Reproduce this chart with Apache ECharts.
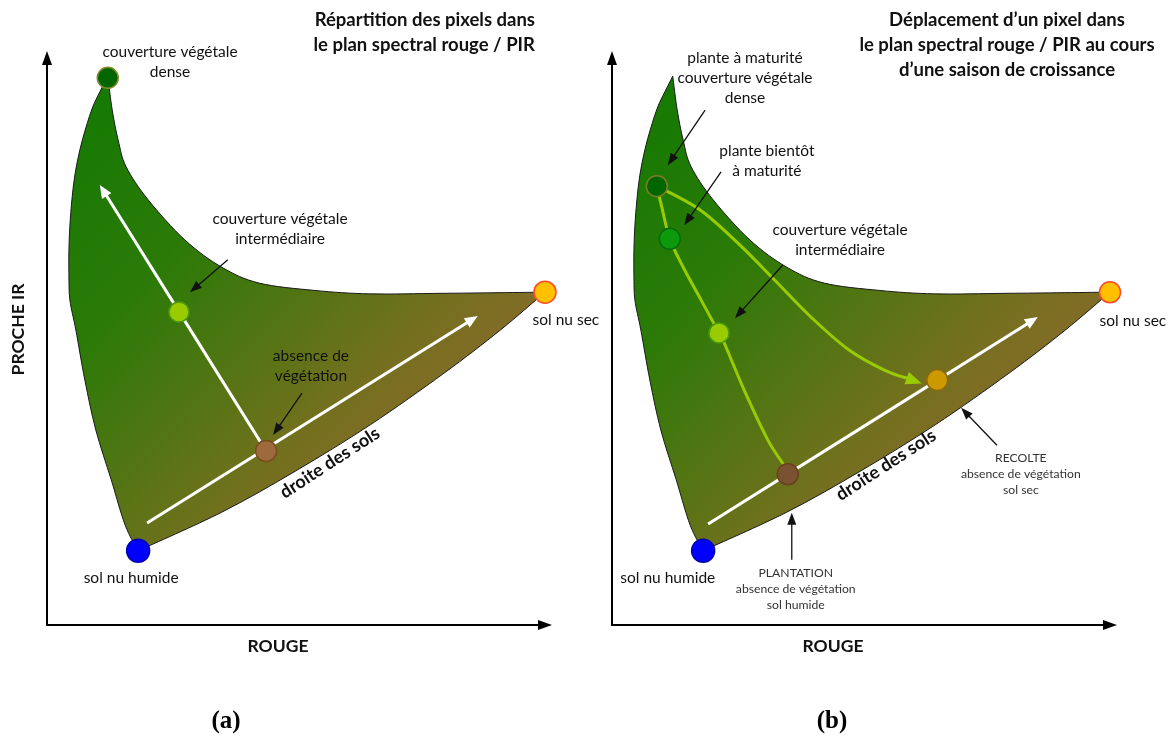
<!DOCTYPE html>
<html><head><meta charset="utf-8">
<script src="https://cdn.jsdelivr.net/npm/echarts@6/dist/echarts.min.js"></script>
<style>html,body{margin:0;padding:0;background:#fff}#c{width:1175px;height:738px}</style>
</head><body><div id="c"></div>
<script>
// ---------- DATA (abstract spectral units, ROUGE 0-100 / PROCHE IR 0-100) ----------
// outline of the red / NIR pixel cloud (same in both panels)
const shapeLeftEdge = [[12.2,96.8],[10.6,94.0],[9.2,91.4],[7.8,87.7],[6.6,83.8],[5.6,79.4],[5.0,75.0],[4.6,70.5],[4.4,66.1],[4.4,61.7],[4.6,57.3],[5.8,52.0],[7.6,43.2],[9.8,34.4],[12.9,25.6],[15.7,17.6],[18.3,13.1]];
const shapeSoilEdge = [[18.3,13.1],[35.1,19.9],[50.0,27.2],[64.9,35.3],[79.7,44.4],[91.0,52.0],[100,58.7]];
const shapeTopEdge = [[100,58.7],[79.7,58.5],[64.9,58.4],[53.8,59.0],[42.6,60.3],[35.1,63.1],[27.7,67.9],[20.3,75.0],[15.9,80.8],[14.3,85.5],[13.1,90.8],[12.2,96.8]];

// panel (a) points
const pointNamesA = ['couverture végétale dense','couverture végétale intermédiaire','absence de végétation','sol nu humide','sol nu sec'];
const pointsA = [[12.2,96.5],[26.5,55.2],[44.0,30.7],[18.3,13.1],[100,58.7]];
const vegetationArrowA = [[44.0,30.7],[10.6,77.6]];
const soilArrowA = [[20.1,18.0],[86.5,54.5]];
const pointerArrowsA = [
  [[36.3,64.4],[28.7,58.7]],
  [[51.2,40.9],[45.4,33.5]]
];

// panel (b) points
const pointNamesB = ['plante à maturité','plante bientôt à maturité','couverture végétale intermédiaire','plantation','récolte','sol nu humide','sol nu sec'];
const pointsB = [[9.0,77.4],[11.6,68.1],[21.5,51.5],[35.3,26.6],[65.3,43.2],[18.3,13.1],[100,58.7]];
const growthPathB = [[35.3,26.6],[34.5,28.2],[31.3,32.6],[26.7,41.1],[22.7,49.4],[21.5,51.5],[17.9,57.3],[14.3,63.1],[11.6,68.1],[10.0,73.7],[9.0,77.4]];
const senescencePathB = [[9.0,77.4],[17.7,73.2],[25.7,67.0],[32.7,60.8],[40.2,54.1],[47.6,48.5],[54.8,44.9],[62.2,42.6]];
const soilArrowB = [[19.3,17.8],[85.5,54.3]];
const pointerArrowsB = [
  [[18.7,90.8],[11.2,81.1]],
  [[21.9,79.9],[14.5,70.5]],
  [[34.3,63.5],[24.7,54.1]],
  [[36.1,11.5],[36.1,19.8]],
  [[77.3,31.7],[70.1,38.3]]
];

// texts
const titleA = ['Répartition des pixels dans','le plan spectral rouge / PIR'];
const titleB = ['Déplacement d\u2019un pixel dans','le plan spectral rouge / PIR au cours','d\u2019une saison de croissance'];
const labelsA = ['couverture végétale\ndense','couverture végétale\nintermédiaire','absence de\nvégétation','sol nu humide','sol nu sec','droite des sols'];
const labelsB = ['plante à maturité\ncouverture végétale\ndense','plante bientôt\nà maturité','couverture végétale\nintermédiaire','PLANTATION\nabsence de végétation\nsol humide','RECOLTE\nabsence de végétation\nsol sec','sol nu humide','sol nu sec','droite des sols'];
const axisNameX = 'ROUGE';
const axisNameY = 'PROCHE IR';
const panelTags = ['(a)','(b)'];

// ---------- LAYOUT / STYLE ----------
const LF = '15.5px Lato', SF = '12.2px Lato', RF = 'bold 18px Lato';
const labelLayoutA = [
  {at:[24.7,99.3], font:LF},
  {at:[46.8,69.8], font:LF},
  {at:[53.0,45.7], font:LF},
  {at:[16.9,8.3], font:LF},
  {at:[104.2,53.8], font:LF},
  {at:[56.8,28.6], font:RF, rot:33}
];
const labelLayoutB = [
  {at:[26.7,96.5], font:LF},
  {at:[31.1,81.8], font:LF},
  {at:[45.8,67.9], font:LF},
  {at:[36.9,6.3], font:SF, lh:16, color:'#333'},
  {at:[82.1,26.6], font:SF, lh:16, color:'#333'},
  {at:[11.2,8.3], font:LF},
  {at:[104.6,53.6], font:LF},
  {at:[55.0,28.2], font:RF, rot:33}
];
const styleA = [
  {c:'#006600', b:'#8a8a2a', s:21},
  {c:'#99cc00', b:'#4a9a10', s:20},
  {c:'#9c6a3d', b:'#7a4c22', s:21},
  {c:'#0000ff', b:'#0000b0', s:23},
  {c:'#ffc000', b:'#ff4a2a', s:22}
];
const styleB = [
  {c:'#006600', b:'#7d7a2a', s:21},
  {c:'#0c990c', b:'#0a6a0a', s:21},
  {c:'#99cc00', b:'#4a9a10', s:20},
  {c:'#7a5232', b:'#6a4020', s:21},
  {c:'#cc9900', b:'#8a6a10', s:21},
  {c:'#0000ff', b:'#0000b0', s:23},
  {c:'#ffc000', b:'#ff4a2a', s:21}
];

// ---------- HELPERS ----------
function bez(px, move) {
  let d = move ? 'M' + px[0][0] + ' ' + px[0][1] : '';
  for (let i = 0; i < px.length - 1; i++) {
    const p0 = px[i - 1] || px[i], p1 = px[i], p2 = px[i + 1], p3 = px[i + 2] || px[i + 1];
    const c1 = [p1[0] + (p2[0] - p0[0]) / 6, p1[1] + (p2[1] - p0[1]) / 6];
    const c2 = [p2[0] - (p3[0] - p1[0]) / 6, p2[1] - (p3[1] - p1[1]) / 6];
    d += ' C' + c1[0] + ' ' + c1[1] + ' ' + c2[0] + ' ' + c2[1] + ' ' + p2[0] + ' ' + p2[1];
  }
  return d;
}
function arrowEls(api, pts, color, width, headL, headW, arrow) {
  const px = pts.map(p => api.coord(p));
  const n = px.length, end = px[n - 1], prev = px[n - 2];
  let dx = end[0] - prev[0], dy = end[1] - prev[1];
  const len = Math.hypot(dx, dy); dx /= len; dy /= len;
  const els = [];
  let linePts = px;
  if (arrow) {
    const lineEnd = [end[0] - dx * headL * 0.8, end[1] - dy * headL * 0.8];
    linePts = px.slice(0, n - 1).concat([lineEnd]);
  }
  els.push({type:'path', shape:{pathData: bez(linePts, true)}, style:{fill:null, stroke:color, lineWidth:width, lineCap:'butt'}});
  if (arrow) {
    const bx = end[0] - dx * headL, by = end[1] - dy * headL;
    const qx = -dy * headW / 2, qy = dx * headW / 2;
    els.push({type:'polygon', shape:{points:[end, [bx + qx, by + qy], [bx - qx, by - qy]]}, style:{fill:color}});
  }
  return els;
}
function customSeries(gi, z, render) {
  return {type:'custom', coordinateSystem:'cartesian2d', xAxisIndex:gi, yAxisIndex:gi, z:z, clip:false, silent:true,
    data:[[0,0]], renderItem: function (params, api) { return {type:'group', children: render(api)}; }};
}
const shapeFill = new echarts.graphic.LinearGradient(0, 0, 1, 1, [
  {offset:0, color:'#117a00'},
  {offset:0.3, color:'#2c7a08'},
  {offset:0.5, color:'#587414'},
  {offset:0.62, color:'#72701e'},
  {offset:0.78, color:'#8a6a2a'},
  {offset:1, color:'#9a6534'}
]);
function shapeSeries(gi) {
  return customSeries(gi, 1, api => {
    const d = bez(shapeLeftEdge.map(p => api.coord(p)), true) + bez(shapeSoilEdge.map(p => api.coord(p)), false) + bez(shapeTopEdge.map(p => api.coord(p)), false) + ' Z';
    return [{type:'path', shape:{pathData:d}, style:{fill:shapeFill, stroke:'#1a1a1a', lineWidth:1}}];
  });
}
function labelSeries(gi, texts, layout) {
  return customSeries(gi, 10, api => texts.map((t, i) => {
    const L = layout[i]; const p = api.coord(L.at);
    return {type:'text', x:p[0], y:p[1], rotation:(L.rot || 0) * Math.PI / 180,
      style:{text:t, font:L.font, fill:L.color || '#111', align:'center', verticalAlign:'middle', lineHeight:L.lh || 20}};
  }));
}
function scatterSeries(gi, pts, names, st) {
  return {type:'scatter', xAxisIndex:gi, yAxisIndex:gi, z:8, clip:false, silent:true,
    data: pts.map((p, i) => ({name:names[i], value:p, symbolSize:st[i].s, itemStyle:{color:st[i].c, borderColor:st[i].b, borderWidth:1.5, opacity:1}}))};
}
function axisPair(gi, xShift, showY) {
  const common = {gridIndex:gi, type:'value', min:0, max:100, axisTick:{show:false}, axisLabel:{show:false}, splitLine:{show:false},
    axisLine:{show:true, onZero:false, symbol:['none','triangle'], symbolSize:[10,14], lineStyle:{color:'#000', width:2}}};
  const nts = {fontFamily:'Lato', fontWeight:'bold', fontSize:17.5, color:'#111'};
  return {
    x: Object.assign({}, common, {name:axisNameX, nameLocation:'middle', nameGap:12,
      nameTextStyle:Object.assign({}, nts, {padding:[0, xShift, 0, 0]})}),
    y: Object.assign({}, common, {name: showY ? axisNameY : '', nameLocation:'middle', nameGap:20,
      nameTextStyle:Object.assign({}, nts, {padding:[0, 0, 0, 24]})})
  };
}
const axA = axisPair(0, 36, true), axB = axisPair(1, 56, false);

const titleFont = 'bold 18.5px Lato';
const graphics = [];
titleA.forEach((t, i) => graphics.push({type:'text', x:535, y:20 + i * 25, style:{text:t, font:titleFont, fill:'#111', align:'right', verticalAlign:'middle'}}));
titleB.forEach((t, i) => graphics.push({type:'text', x:1007, y:20 + i * 25, style:{text:t, font:titleFont, fill:'#111', align:'center', verticalAlign:'middle'}}));
graphics.push({type:'text', x:226, y:722, style:{text:panelTags[0], font:'bold 25px "Liberation Serif"', fill:'#000', align:'center', verticalAlign:'middle'}});
graphics.push({type:'text', x:832, y:722, style:{text:panelTags[1], font:'bold 25px "Liberation Serif"', fill:'#000', align:'center', verticalAlign:'middle'}});

const option = {
  animation:false,
  backgroundColor:'#fff',
  grid:[{left:47, top:58, width:498, height:567}, {left:612, top:58, width:498, height:567}],
  xAxis:[axA.x, axB.x],
  yAxis:[axA.y, axB.y],
  graphic: graphics,
  series: [
    shapeSeries(0),
    customSeries(0, 4, api => arrowEls(api, vegetationArrowA, '#fff', 3, 13, 11, true)
      .concat(arrowEls(api, soilArrowA, '#fff', 3, 13, 11, true))),
    customSeries(0, 6, api => pointerArrowsA.reduce((a, p) => a.concat(arrowEls(api, p, '#111', 1.3, 12, 9, true)), [])),
    scatterSeries(0, pointsA, pointNamesA, styleA),
    labelSeries(0, labelsA, labelLayoutA),

    shapeSeries(1),
    customSeries(1, 4, api => arrowEls(api, soilArrowB, '#fff', 3, 13, 11, true)
      .concat(arrowEls(api, growthPathB, '#99cc00', 3, 12, 11, false))
      .concat(arrowEls(api, senescencePathB, '#99cc00', 3, 16, 13, true))),
    customSeries(1, 6, api => pointerArrowsB.reduce((a, p) => a.concat(arrowEls(api, p, '#111', 1.3, 12, 9, true)), [])),
    scatterSeries(1, pointsB, pointNamesB, styleB),
    labelSeries(1, labelsB, labelLayoutB)
  ]
};
const chart = echarts.init(document.getElementById('c'), null, {renderer:'canvas'});
chart.setOption(option);
</script>
</body></html>
